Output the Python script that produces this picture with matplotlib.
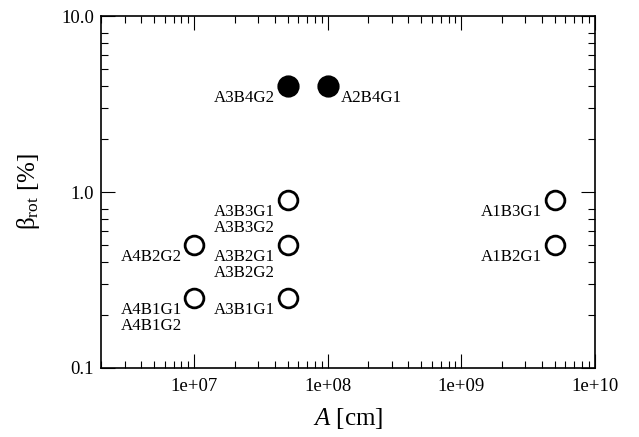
#!/usr/bin/env python3

import numpy as np
import matplotlib
matplotlib.use( 'Agg' )
import matplotlib.pyplot as plt
from matplotlib.ticker import LogLocator, NullFormatter

plt.rcParams['font.family'] = 'Liberation Serif'
plt.rcParams['mathtext.fontset'] = 'custom'
plt.rcParams['mathtext.rm'] = 'Liberation Serif'
plt.rcParams['mathtext.it'] = 'Liberation Serif:italic'

# models with beta_rot below 1 % (open symbols)
A_open     = [ 1e7, 1e7, 5e7, 5e7, 5e7, 5e9, 5e9 ]
beta_open  = [ 0.25, 0.5, 0.25, 0.5, 0.9, 0.5, 0.9 ]
names_open = [ 'A4B1G1\nA4B1G2', 'A4B2G2', 'A3B1G1', 'A3B2G1\nA3B2G2', \
               'A3B3G1\nA3B3G2', 'A1B2G1', 'A1B3G1' ]

# rapidly rotating models (filled symbols)
A_fill     = [ 5e7, 1e8 ]
beta_fill  = [ 4.0, 4.0 ]
names_fill = [ 'A3B4G2', 'A2B4G1' ]
side_fill  = [ 'left', 'right' ]

xticks      = [ 1e7, 1e8, 1e9, 1e10 ]
xticklabels = [ '1e+07', '1e+08', '1e+09', '1e+10' ]
yticks      = [ 0.1, 1.0, 10.0 ]
yticklabels = [ '0.1', '1.0', '10.0' ]

fig = plt.figure( figsize = (6.39,4.37), dpi = 100 )
ax = fig.add_axes( [ 101/639, 69/437, 494/639, 352/437 ] )

ax.plot( A_open, beta_open, ls = 'none', marker = 'o', ms = 13.5, \
         mfc = 'none', mec = 'k', mew = 2.0 )
ax.plot( A_fill, beta_fill, ls = 'none', marker = 'o', ms = 14.0, \
         mfc = 'k', mec = 'k', mew = 2.0 )

fs = 12.2
for x, y, s in zip( A_open, beta_open, names_open ):
    ax.annotate( s, (x,y), xytext = (-9.0,-3.2), textcoords = 'offset points', \
                 ha = 'right', va = 'top', fontsize = fs, linespacing = 1.0 )
for x, y, s, side in zip( A_fill, beta_fill, names_fill, side_fill ):
    if side == 'left':
        ax.annotate( s, (x,y), xytext = (-9.0,-3.2), textcoords = 'offset points', \
                     ha = 'right', va = 'top', fontsize = fs )
    else:
        ax.annotate( s, (x,y), xytext = (9.0,-3.2), textcoords = 'offset points', \
                     ha = 'left', va = 'top', fontsize = fs )

ax.set_xscale( 'log' )
ax.set_yscale( 'log' )
ax.set_xlim( 2e6, 1e10 )
ax.set_ylim( 0.1, 10.0 )

ax.set_xticks( xticks, xticklabels )
ax.set_yticks( yticks, yticklabels )
ax.xaxis.set_minor_locator( LogLocator( base = 10, subs = np.arange( 2, 10 ), numticks = 20 ) )
ax.yaxis.set_minor_locator( LogLocator( base = 10, subs = np.arange( 2, 9 ), numticks = 20 ) )
ax.xaxis.set_minor_formatter( NullFormatter() )
ax.yaxis.set_minor_formatter( NullFormatter() )

ax.tick_params( which = 'both', direction = 'in', top = True, right = True, \
                width = 0.8, labelsize = 13.5 )
ax.tick_params( which = 'major', length = 10 )
ax.tick_params( which = 'minor', length = 4.8 )
ax.tick_params( axis = 'x', pad = 7 )
ax.tick_params( axis = 'y', pad = 5 )
for sp in ax.spines.values():
    sp.set_linewidth( 1.2 )

ax.set_xlabel( r'$A$ [cm]', fontsize = 18, labelpad = 8 )
ax.set_ylabel( r'β$_{\mathrm{rot}}$ [%]', fontsize = 18, labelpad = 14 )

plt.savefig( 'out.png', dpi = 100 )
plt.close()
